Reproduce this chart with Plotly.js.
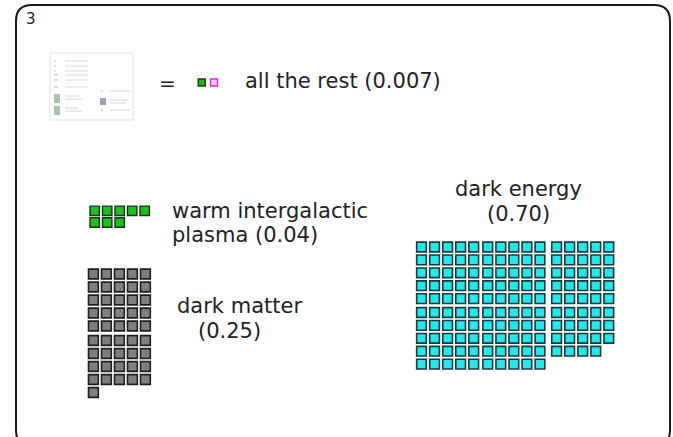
<!DOCTYPE html>
<html>
<head>
<meta charset="utf-8">
<script src="https://cdn.plot.ly/plotly-3.0.1.min.js"></script>
<style>html,body{margin:0;padding:0;background:#fff;}#chart{width:673px;height:437px;}</style>
</head>
<body>
<div id="chart"></div>
<script>
// ---- data ----
const categories = ['all the rest', 'warm intergalactic plasma', 'dark matter', 'dark energy'];
const fractions = ['0.007', '0.04', '0.25', '0.70'];
const restParts = ['rest A', 'rest B'];
const restCounts = [1, 1];
const plasmaCount = 8;
const darkMatterCount = 46;
const darkEnergyCount = 144;
const panelLabel = '3';

// ---- waffle layout helper (positions derived from counts) ----
function waffle(n, o) {
  const xs = [], ys = [];
  const panels = o.panels || [{cols: o.cols, rows: Infinity}];
  let idx = 0, px = o.x0;
  for (const p of panels) {
    const cap = p.rows * p.cols;
    for (let k = 0; k < cap && idx < n; k++, idx++) {
      const c = k % p.cols, r = Math.floor(k / p.cols);
      const gx = o.groupCols ? Math.floor(c / o.groupCols) * (o.subX || 0) : 0;
      const gy = o.groupRows ? Math.floor(r / o.groupRows) * (o.subY || 0) : 0;
      xs.push(px + c * o.dx + gx);
      ys.push(o.y0 + r * o.dy + gy);
    }
    const pg = o.groupCols ? Math.floor((p.cols - 1) / o.groupCols) * (o.subX || 0) : 0;
    px += p.cols * o.dx + pg + (o.panelGap || 0);
    if (idx >= n) break;
  }
  return {x: xs, y: ys};
}

const font = 'DejaVu Sans, Verdana, sans-serif';
const traces = [];
function sq(pos, size, fill, line, lw) {
  traces.push({type: 'scatter', mode: 'markers', x: pos.x, y: pos.y, hoverinfo: 'skip',
    marker: {symbol: 'square', size: size, color: fill, line: {color: line, width: lw}}});
}

// all the rest
const restColors = [['#22b422', '#163a16'], ['#f6c4f6', '#e02ee0']];
let rx = 201.7;
restCounts.forEach((c, i) => {
  const pos = waffle(c, {x0: rx, y0: 82.5, dx: 12.3, dy: 12, cols: 5});
  sq(pos, 7, restColors[i][0], restColors[i][1], 1.4);
  rx += c * 12.3;
});
// plasma
sq(waffle(plasmaCount, {x0: 94.7, y0: 210.8, dx: 12.5, dy: 11.7, cols: 5}), 9.4, '#1fbf1f', '#163216', 1.4);
// dark matter
sq(waffle(darkMatterCount, {x0: 93.4, y0: 274, dx: 13, dy: 13, cols: 5, groupRows: 5, subY: 1.5}), 9.8, '#7f7f7f', '#1e1e1e', 1.6);
// dark energy
sq(waffle(darkEnergyCount, {x0: 421.5, y0: 247, dx: 13.05, dy: 12.9, groupCols: 5, subX: 1, groupRows: 5, subY: 1,
  panels: [{cols: 10, rows: 10}, {cols: 5, rows: Infinity}], panelGap: 3.6}), 9.7, '#27e6ea', '#1b3a40', 1.6);

// ---- annotations ----
const anns = [];
function txt(x, y, t, size, anchor) {
  anns.push({x: x, y: y, xref: 'x', yref: 'y', text: t, showarrow: false, xanchor: anchor || 'left', yanchor: 'middle',
    font: {family: font, size: size, color: '#222'}});
}
const fs = 21;
txt(24, 19, panelLabel, 15);
txt(167, 82.5, '=', 20, 'center');
txt(243, 81, categories[0] + ' (' + fractions[0] + ')', fs);
txt(170, 210.5, 'warm intergalactic', fs);
txt(170, 235, 'plasma (' + fractions[1] + ')', fs);
txt(175, 305.5, 'dark matter', fs);
txt(196, 330.5, '(' + fractions[2] + ')', fs);
txt(518, 188.5, 'dark energy', fs, 'center');
txt(518, 213.5, '(' + fractions[3] + ')', fs, 'center');

// ---- shapes: frame + thumbnail ----
const r = 16, L = 16, T = 5, R = 670, B = 446;
const shapes = [{type: 'path', xref: 'x', yref: 'y', line: {color: '#1a1a1a', width: 2},
  path: `M ${L} ${T + r} Q ${L} ${T} ${L + r} ${T} L ${R - r} ${T} Q ${R} ${T} ${R} ${T + r} L ${R} ${B - r} Q ${R} ${B} ${R - r} ${B} L ${L + r} ${B} Q ${L} ${B} ${L} ${B - r} Z`}];
shapes.push({type: 'rect', xref: 'x', yref: 'y', x0: 50, x1: 133, y0: 53, y1: 120, line: {color: '#e2e2e2', width: 1}, fillcolor: '#fff'});
const thumbRows = [61, 66, 71, 75, 80, 87];
thumbRows.forEach((y, i) => {
  shapes.push({type: 'line', xref: 'x', yref: 'y', x0: 54, x1: 56 + (i > 2 ? 2 : 0), y0: y, y1: y, line: {color: '#c4c4c4', width: 1.2}});
  shapes.push({type: 'line', xref: 'x', yref: 'y', x0: 65, x1: 88, y0: y, y1: y, line: {color: '#dadada', width: 1}});
});
shapes.push({type: 'rect', xref: 'x', yref: 'y', x0: 54, x1: 60, y0: 94, y1: 103, line: {width: 0}, fillcolor: '#a9c4a9'});
shapes.push({type: 'rect', xref: 'x', yref: 'y', x0: 54, x1: 60, y0: 106, y1: 115, line: {width: 0}, fillcolor: '#a9c4a9'});
[[65, 80, 96], [65, 82, 99], [65, 78, 108], [65, 82, 111]].forEach(l => shapes.push({type: 'line', xref: 'x', yref: 'y', x0: l[0], x1: l[1], y0: l[2], y1: l[2], line: {color: '#d6d6d6', width: 1}}));
shapes.push({type: 'rect', xref: 'x', yref: 'y', x0: 100, x1: 106, y0: 98, y1: 105, line: {width: 0}, fillcolor: '#b392c0'});
[[110, 130, 91], [110, 128, 100], [110, 126, 103], [110, 130, 110]].forEach(l => shapes.push({type: 'line', xref: 'x', yref: 'y', x0: l[0], x1: l[1], y0: l[2], y1: l[2], line: {color: '#d6d6d6', width: 1}}));
shapes.push({type: 'line', xref: 'x', yref: 'y', x0: 101, x1: 103, y0: 91, y1: 91, line: {color: '#c8c8c8', width: 1}});
shapes.push({type: 'line', xref: 'x', yref: 'y', x0: 101, x1: 103, y0: 110, y1: 110, line: {color: '#c8a8d0', width: 1}});

const layout = {
  width: 673, height: 437, margin: {l: 0, r: 0, t: 0, b: 0},
  paper_bgcolor: '#fff', plot_bgcolor: '#fff', showlegend: false,
  xaxis: {range: [0, 673], visible: false, fixedrange: true},
  yaxis: {range: [437, 0], visible: false, fixedrange: true},
  annotations: anns, shapes: shapes
};
Plotly.newPlot('chart', traces, layout, {staticPlot: true, displayModeBar: false});
</script>
</body>
</html>
